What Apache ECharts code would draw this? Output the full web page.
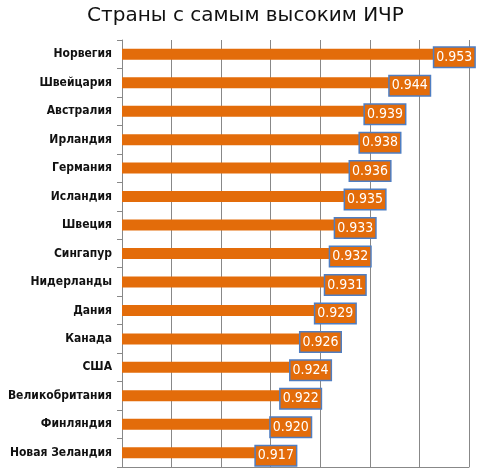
<!DOCTYPE html>
<html><head><meta charset="utf-8">
<script src="https://cdn.jsdelivr.net/npm/echarts@6/dist/echarts.min.js"></script>
<style>html,body{margin:0;padding:0;background:#fff}#c{width:491px;height:471px}</style>
</head><body><div id="c"></div>
<script>
const categories = ["Норвегия","Швейцария","Австралия","Ирландия","Германия","Исландия","Швеция","Сингапур","Нидерланды","Дания","Канада","США","Великобритания","Финляндия","Новая Зеландия"];
const values = [0.953,0.944,0.939,0.938,0.936,0.935,0.933,0.932,0.931,0.929,0.926,0.924,0.922,0.920,0.917];
const chart = echarts.init(document.getElementById('c'));
chart.setOption({
  animation:false,
  title:{text:"Страны с самым высоким ИЧР",left:'center',top:1,textStyle:{fontFamily:'DejaVu Sans',fontSize:20,fontWeight:'normal',color:'#111'}},
  grid:{left:122,right:22,top:40,bottom:4,containLabel:false},
  xAxis:{type:'value',min:0.89,max:0.96,interval:0.01,axisLabel:{show:false},
    splitLine:{lineStyle:{color:'#888',width:1}},axisLine:{show:true,lineStyle:{color:'#888'}},axisTick:{show:false}},
  yAxis:{type:'category',data:categories,inverse:true,
    axisLine:{lineStyle:{color:'#888'}},axisTick:{show:true,length:5,lineStyle:{color:'#888'}},
    axisLabel:{color:'#111',fontWeight:'bold',fontSize:12,fontFamily:'DejaVu Sans Condensed',margin:10}},
  series:[{type:'bar',data:values,barWidth:11,itemStyle:{color:'#E36C0A'},
    label:{show:true,position:'right',distance:0,offset:[0,3],color:'#fff',fontSize:14,fontFamily:'DejaVu Sans Condensed',
      backgroundColor:'#E36C0A',borderColor:'#4F7EC2',borderWidth:1.5,padding:[3,2,2,2],
      formatter:p=>p.value.toFixed(3)}}]
});
</script></body></html>
